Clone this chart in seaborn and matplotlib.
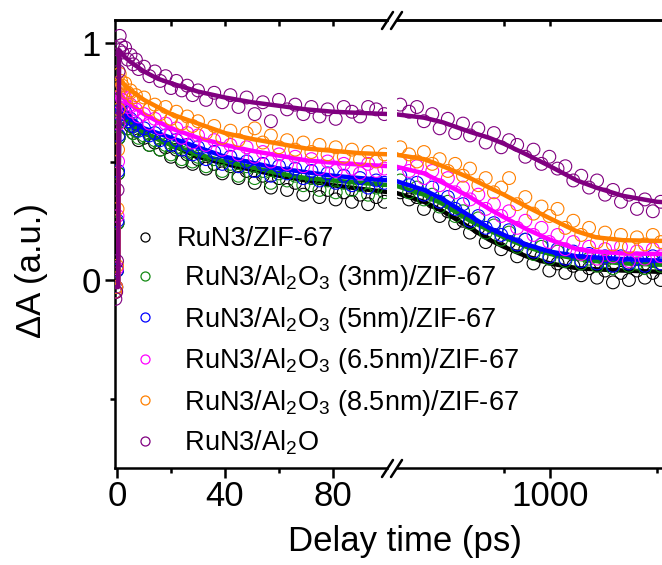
import matplotlib
matplotlib.use("Agg")
import numpy as np
import pandas as pd
import matplotlib.pyplot as plt
import seaborn as sns
from matplotlib.lines import Line2D
from matplotlib.ticker import FixedLocator, FixedFormatter, NullFormatter

# ---------------- data ----------------
series_names = ["RuN3/ZIF-67",
                " RuN3/Al$_2$O$_3$ (3nm)/ZIF-67",
                " RuN3/Al$_2$O$_3$ (5nm)/ZIF-67",
                " RuN3/Al$_2$O$_3$ (6.5nm)/ZIF-67",
                " RuN3/Al$_2$O$_3$ (8.5nm)/ZIF-67",
                " RuN3/Al$_2$O"]
series_colors = ["#000000", "#138a13", "#0000ff", "#ff00ff", "#ff8000", "#800080"]

# left segment (linear, 0-100 ps) measured points
t_left = [-0.6, -0.3, 0, 0.2, 0.4, 0.6, 0.8, 1.0,
          1.5, 2, 3, 4, 5, 6, 7, 8,
          10, 12, 14, 16, 18, 20, 22, 24, 26, 28, 30,
          33, 36, 39, 42, 45, 48, 51, 54, 57, 60, 63, 66, 69, 72, 75, 78, 81, 84, 87, 90, 93, 96, 99]

black_left = [-0.05, -0.03, 0.04, 0.24, 0.45, 0.60, 0.68, 0.72,
              0.70, 0.67, 0.68, 0.64, 0.65, 0.62, 0.63, 0.59,
              0.60, 0.57, 0.58, 0.55, 0.56, 0.52, 0.55, 0.50, 0.53, 0.49, 0.51,
              0.47, 0.49, 0.45, 0.48, 0.43, 0.46, 0.41, 0.44, 0.39, 0.43, 0.38, 0.41, 0.36, 0.40, 0.35, 0.38, 0.34, 0.37, 0.33, 0.36, 0.32, 0.35, 0.33]
green_left = [-0.05, -0.03, 0.04, 0.24, 0.45, 0.60, 0.68, 0.72,
              0.70, 0.67, 0.69, 0.64, 0.66, 0.62, 0.63, 0.60,
              0.61, 0.57, 0.59, 0.55, 0.57, 0.53, 0.56, 0.51, 0.54, 0.50, 0.52,
              0.48, 0.51, 0.46, 0.49, 0.44, 0.48, 0.43, 0.46, 0.41, 0.45, 0.42, 0.44, 0.40, 0.43, 0.38, 0.42, 0.37, 0.41, 0.38, 0.40, 0.36, 0.39, 0.37]
blue_left = [-0.05, -0.03, 0.04, 0.25, 0.46, 0.61, 0.70, 0.74,
             0.72, 0.70, 0.71, 0.67, 0.68, 0.65, 0.66, 0.63,
             0.64, 0.61, 0.62, 0.59, 0.61, 0.57, 0.59, 0.55, 0.57, 0.53, 0.56,
             0.51, 0.54, 0.49, 0.52, 0.48, 0.50, 0.46, 0.49, 0.44, 0.48, 0.45, 0.47, 0.43, 0.46, 0.42, 0.45, 0.41, 0.44, 0.40, 0.43, 0.39, 0.42, 0.41]
magenta_left = [-0.05, -0.03, 0.05, 0.27, 0.50, 0.66, 0.75, 0.80,
                0.78, 0.76, 0.77, 0.73, 0.74, 0.71, 0.72, 0.69,
                0.70, 0.66, 0.68, 0.64, 0.66, 0.62, 0.64, 0.60, 0.62, 0.58, 0.61,
                0.57, 0.59, 0.55, 0.57, 0.53, 0.56, 0.52, 0.54, 0.50, 0.53, 0.49, 0.52, 0.48, 0.51, 0.47, 0.50, 0.46, 0.49, 0.47, 0.45, 0.49, 0.46, 0.47]
orange_left = [-0.05, -0.03, 0.06, 0.30, 0.55, 0.72, 0.82, 0.87,
               0.84, 0.82, 0.83, 0.79, 0.80, 0.77, 0.78, 0.75,
               0.77, 0.72, 0.74, 0.70, 0.73, 0.68, 0.71, 0.66, 0.69, 0.65, 0.67,
               0.62, 0.65, 0.60, 0.63, 0.59, 0.62, 0.64, 0.58, 0.61, 0.56, 0.59, 0.55, 0.58, 0.54, 0.57, 0.53, 0.56, 0.52, 0.55, 0.51, 0.54, 0.50, 0.53]
purple_left = [-0.08, -0.05, 0.08, 0.38, 0.68, 0.88, 0.97, 1.03,
               0.99, 0.96, 0.98, 0.93, 0.95, 0.91, 0.93, 0.89,
               0.90, 0.86, 0.88, 0.84, 0.86, 0.81, 0.84, 0.80, 0.82, 0.78, 0.80,
               0.76, 0.79, 0.75, 0.78, 0.73, 0.77, 0.70, 0.75, 0.67, 0.76, 0.72, 0.74, 0.70, 0.73, 0.69, 0.72, 0.68, 0.73, 0.71, 0.69, 0.73, 0.72, 0.70]

# right segment (log, 100 ps - ns) measured points
t_right = [105, 120, 135, 150, 170, 190, 215, 240, 270, 300, 340, 380, 430, 480, 540, 610, 690,
           780, 880, 990, 1120, 1260, 1420, 1600, 1800, 2030, 2290, 2580, 2910, 3280, 3700, 4170, 4700, 5300]

black_right = [0.37, 0.34, 0.35, 0.30, 0.33, 0.27, 0.29, 0.24, 0.25, 0.20, 0.22, 0.16, 0.19, 0.13, 0.16, 0.10, 0.13,
               0.07, 0.10, 0.04, 0.07, 0.03, 0.06, 0.02, 0.05, 0.01, 0.04, -0.01, 0.03, 0.00, 0.04, 0.01, 0.03, 0.00]
green_right = [0.42, 0.37, 0.39, 0.34, 0.36, 0.31, 0.33, 0.27, 0.29, 0.24, 0.26, 0.20, 0.23, 0.17, 0.20, 0.14, 0.17,
               0.11, 0.14, 0.09, 0.12, 0.08, 0.11, 0.07, 0.09, 0.06, 0.08, 0.05, 0.09, 0.06, 0.07, 0.05, 0.08, 0.06]
blue_right = [0.44, 0.40, 0.41, 0.36, 0.39, 0.33, 0.35, 0.30, 0.32, 0.25, 0.27, 0.22, 0.24, 0.19, 0.21, 0.15, 0.17,
              0.12, 0.15, 0.10, 0.13, 0.09, 0.12, 0.08, 0.11, 0.07, 0.10, 0.06, 0.10, 0.07, 0.09, 0.06, 0.10, 0.07]
magenta_right = [0.50, 0.46, 0.48, 0.43, 0.46, 0.40, 0.43, 0.37, 0.39, 0.34, 0.36, 0.30, 0.32, 0.27, 0.29, 0.22, 0.25,
                 0.19, 0.22, 0.16, 0.19, 0.13, 0.16, 0.11, 0.14, 0.09, 0.13, 0.10, 0.14, 0.08, 0.12, 0.09, 0.13, 0.10]
orange_right = [0.56, 0.53, 0.50, 0.54, 0.49, 0.51, 0.46, 0.49, 0.44, 0.47, 0.40, 0.43, 0.37, 0.39, 0.43, 0.32, 0.35,
                0.28, 0.31, 0.27, 0.30, 0.22, 0.25, 0.19, 0.22, 0.16, 0.20, 0.15, 0.19, 0.14, 0.18, 0.15, 0.19, 0.16]
purple_right = [0.74, 0.71, 0.73, 0.67, 0.70, 0.64, 0.68, 0.62, 0.66, 0.61, 0.64, 0.58, 0.62, 0.56, 0.59, 0.57, 0.52,
                 0.55, 0.49, 0.52, 0.47, 0.48, 0.42, 0.44, 0.39, 0.42, 0.36, 0.38, 0.33, 0.36, 0.30, 0.34, 0.29, 0.33]

# fitted curves
tfit_left = [-0.7, 0.4, 0.8, 1.5, 3, 5, 10, 15, 20, 30, 40, 50, 60, 70, 80, 90, 101]
black_fit_left = [-0.02, -0.02, 0.72, 0.71, 0.69, 0.66, 0.62, 0.595, 0.57, 0.52, 0.49, 0.465, 0.44, 0.42, 0.40, 0.385, 0.37]
green_fit_left = [-0.02, -0.02, 0.72, 0.71, 0.69, 0.66, 0.62, 0.595, 0.57, 0.53, 0.50, 0.475, 0.45, 0.43, 0.42, 0.41, 0.40]
blue_fit_left = [-0.02, -0.02, 0.73, 0.72, 0.70, 0.68, 0.64, 0.62, 0.60, 0.56, 0.52, 0.495, 0.47, 0.455, 0.44, 0.43, 0.42]
magenta_fit_left = [-0.02, -0.02, 0.79, 0.78, 0.76, 0.74, 0.70, 0.67, 0.64, 0.60, 0.57, 0.545, 0.525, 0.505, 0.495, 0.487, 0.48]
orange_fit_left = [-0.02, -0.02, 0.85, 0.84, 0.82, 0.80, 0.76, 0.73, 0.70, 0.66, 0.62, 0.595, 0.575, 0.555, 0.545, 0.535, 0.53]
purple_fit_left = [-0.03, -0.03, 0.97, 0.96, 0.94, 0.92, 0.88, 0.85, 0.83, 0.795, 0.77, 0.75, 0.735, 0.72, 0.71, 0.705, 0.70]

tfit_right = [96, 150, 200, 300, 400, 500, 700, 1000, 1500, 2000, 3000, 5000, 9500]
black_fit_right = [0.37, 0.33, 0.29, 0.22, 0.17, 0.14, 0.10, 0.07, 0.05, 0.045, 0.04, 0.035, 0.035]
green_fit_right = [0.40, 0.36, 0.32, 0.25, 0.21, 0.18, 0.14, 0.11, 0.09, 0.08, 0.07, 0.065, 0.06]
blue_fit_right = [0.42, 0.38, 0.34, 0.27, 0.22, 0.19, 0.15, 0.12, 0.10, 0.095, 0.088, 0.082, 0.08]
magenta_fit_right = [0.48, 0.45, 0.41, 0.35, 0.30, 0.265, 0.215, 0.17, 0.13, 0.12, 0.112, 0.11, 0.11]
orange_fit_right = [0.53, 0.51, 0.48, 0.43, 0.39, 0.36, 0.31, 0.26, 0.205, 0.18, 0.168, 0.165, 0.165]
purple_fit_right = [0.70, 0.685, 0.665, 0.625, 0.60, 0.575, 0.53, 0.48, 0.42, 0.39, 0.355, 0.33, 0.32]

left_data = [black_left, green_left, blue_left, magenta_left, orange_left, purple_left]
right_data = [black_right, green_right, blue_right, magenta_right, orange_right, purple_right]
left_fits = [black_fit_left, green_fit_left, blue_fit_left, magenta_fit_left, orange_fit_left, purple_fit_left]
right_fits = [black_fit_right, green_fit_right, blue_fit_right, magenta_fit_right, orange_fit_right, purple_fit_right]

x_left_ticks = [0, 40, 80]
x_left_minor = [20, 60]
x_right_ticks = [1000]
x_right_minor = [500, 5000]

# ---------------- style ----------------
sns.set_style("ticks")
plt.rcParams['font.family'] = ['Liberation Sans', 'DejaVu Sans']
plt.rcParams['mathtext.fontset'] = 'custom'
plt.rcParams['mathtext.rm'] = 'Liberation Sans'
plt.rcParams['mathtext.it'] = 'Liberation Sans:italic'
plt.rcParams['mathtext.bf'] = 'Liberation Sans:bold'
plt.rcParams['mathtext.default'] = 'regular'
for k in ('text.color', 'axes.labelcolor', 'xtick.color', 'ytick.color', 'axes.edgecolor'):
    plt.rcParams[k] = 'black'

W, H = 662, 565
def fx(px):
    return px / W
def fy(py):
    return 1 - py / H

fig = plt.figure(figsize=(W / 100, H / 100), dpi=100)
ax_top, ax_bot = 20, 468
ax1 = fig.add_axes([fx(115), fy(ax_bot), (387 - 115) / W, (ax_bot - ax_top) / H])
ax2 = fig.add_axes([fx(397), fy(ax_bot), (700 - 397) / W, (ax_bot - ax_top) / H])
ax2.set_xscale('log')
ax2.patch.set_visible(False)

spine_lw = 1.8
for i in range(6):
    c = series_colors[i]
    df_l = pd.DataFrame({"t": t_left, "v": left_data[i]})
    df_r = pd.DataFrame({"t": t_right, "v": right_data[i]})
    sns.scatterplot(data=df_l, x="t", y="v", ax=ax1, marker="o", s=85,
                    facecolor="none", edgecolor=c, linewidth=0.8, legend=False, zorder=2 + i)
    sns.scatterplot(data=df_r, x="t", y="v", ax=ax2, marker="o", s=85,
                    facecolor="none", edgecolor=c, linewidth=0.8, legend=False, zorder=2 + i)
    fl = pd.DataFrame({"t": tfit_left, "v": left_fits[i]})
    fr = pd.DataFrame({"t": tfit_right, "v": right_fits[i]})
    sns.lineplot(data=fl, x="t", y="v", ax=ax1, color=c, lw=3.2, sort=False,
                 estimator=None, legend=False, zorder=2.5 + i)
    sns.lineplot(data=fr, x="t", y="v", ax=ax2, color=c, lw=3.2, sort=False,
                 estimator=None, legend=False, zorder=2.5 + i)

ylim = (-(ax_bot - 280) / 237, (280 - ax_top) / 237)
ax1.set_xlim(-0.74, 100.0)
ax2.set_xlim(100, 1000 * 10 ** (150 / 153))
ax1.set_ylim(*ylim)
ax2.set_ylim(*ylim)

for ax in (ax1, ax2):
    ax.set_xlabel("")
    ax.set_ylabel("")
    for s in ax.spines.values():
        s.set_linewidth(spine_lw)
    ax.spines['right'].set_visible(False)
ax2.spines['left'].set_visible(False)

# y axis
ax1.yaxis.set_major_locator(FixedLocator([0, 1]))
ax1.yaxis.set_major_formatter(FixedFormatter(["0", "1"]))
ax1.yaxis.set_minor_locator(FixedLocator([-0.5, 0.5]))
ax1.tick_params(axis='y', which='major', direction='out', length=7, width=spine_lw, labelsize=25, pad=3)
ax1.tick_params(axis='y', which='minor', direction='out', length=3.5, width=spine_lw)
ax2.tick_params(axis='y', which='both', left=False, labelleft=False)

# x axes
ax1.xaxis.set_major_locator(FixedLocator(x_left_ticks))
ax1.xaxis.set_major_formatter(FixedFormatter([str(v) for v in x_left_ticks]))
ax1.xaxis.set_minor_locator(FixedLocator(x_left_minor))
ax2.xaxis.set_major_locator(FixedLocator(x_right_ticks))
ax2.xaxis.set_major_formatter(FixedFormatter([str(v) for v in x_right_ticks]))
ax2.xaxis.set_minor_locator(FixedLocator(x_right_minor))
ax2.xaxis.set_minor_formatter(NullFormatter())
for ax in (ax1, ax2):
    ax.tick_params(axis='x', which='major', direction='out', length=7, width=spine_lw, labelsize=25, pad=2)
    ax.tick_params(axis='x', which='minor', direction='out', length=3.5, width=spine_lw)

# top inward ticks
sec1 = ax1.secondary_xaxis('top')
sec1.xaxis.set_major_locator(FixedLocator([20, 40, 60, 80]))
sec1.xaxis.set_major_formatter(NullFormatter())
sec1.tick_params(direction='in', length=4, width=spine_lw)
sec1.spines['top'].set_linewidth(spine_lw)
sec2 = ax2.secondary_xaxis('top')
sec2.xaxis.set_major_locator(FixedLocator([500, 1000]))
sec2.xaxis.set_minor_locator(FixedLocator([]))
sec2.xaxis.set_major_formatter(NullFormatter())
sec2.tick_params(direction='in', length=4, width=spine_lw)
sec2.spines['top'].set_linewidth(spine_lw)

# break marks
for yc in (ax_bot, ax_top):
    for x0 in (382, 391):
        fig.add_artist(Line2D([fx(x0), fx(x0 + 11)], [fy(yc + 9), fy(yc - 8)],
                              color='black', lw=spine_lw, transform=fig.transFigure))

# labels
fig.text(fx(405), fy(542), "Delay time (ps)", ha='center', va='center', fontsize=25)
fig.text(fx(32), fy(271), "ΔA (a.u.)", ha='center', va='center', fontsize=25, rotation=90)

# legend
handles = [Line2D([], [], marker='o', ls='', mfc='none', mec=c, ms=6.5, mew=0.9) for c in series_colors]
fig.legend(handles, series_names, loc='upper left',
           bbox_to_anchor=(fx(145 - 13.5), fy(226)), bbox_transform=fig.transFigure,
           frameon=False, handlelength=1.0, handletextpad=0.68, borderpad=0, borderaxespad=0,
           labelspacing=0.42, fontsize=19.5)

fig.savefig("out.png", dpi=100)
